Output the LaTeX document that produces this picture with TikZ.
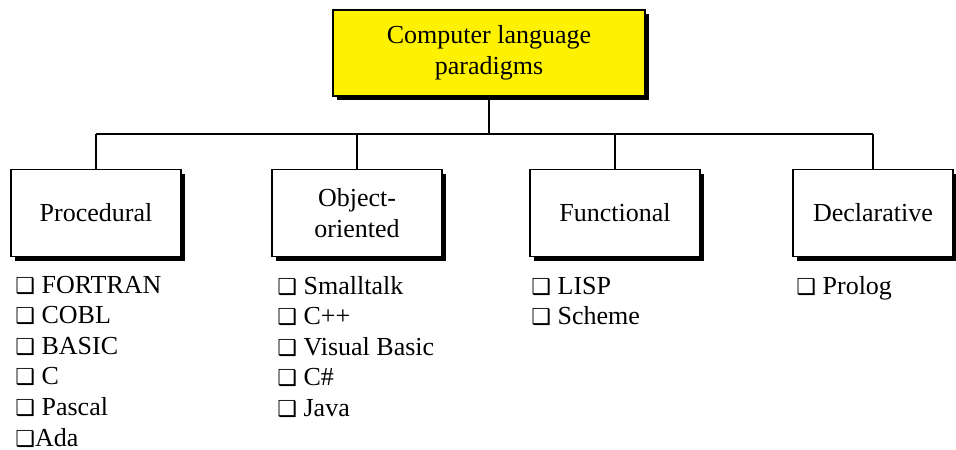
\documentclass[tikz,border=0pt]{standalone}
\usepackage{fontspec}
\setmainfont{Liberation Serif}
\newfontfamily\boxsym{DejaVu Sans}
\usetikzlibrary{shadows}
\newcommand{\chk}{{\boxsym\fontsize{11}{11}\selectfont ❑}}

\begin{document}
\begin{tikzpicture}[x=0.5pt,y=-0.5pt,
  font=\fontsize{13}{15.3}\selectfont,
  box/.style={draw,fill=white,line width=0.8pt,align=center,minimum width=85pt,minimum height=43.5pt,
    drop shadow={shadow xshift=2pt,shadow yshift=-2pt,fill=black,opacity=1}},
  list/.style={align=left,anchor=base west,inner sep=0pt}]
\useasboundingbox (0,0) rectangle (956,449);

\node[box,fill=yellow,minimum width=156pt,minimum height=43pt] (top) at (489,53) {Computer language\\paradigms};
\node[box] (proc) at (96,213) {Procedural};
\node[box] (obj) at (357,213) {Object-\\oriented};
\node[box] (func) at (615,213) {Functional};
\node[box,minimum width=80pt] (decl) at (873,213) {Declarative};

% base anchor sits on the last line
\node[list] (procl) at (15,446) {\chk{} FORTRAN\\\chk{} COBL\\\chk{} BASIC\\\chk{} C\\\chk{} Pascal\\\chk{}Ada};
\node[list] (objl) at (277,416.4) {\chk{} Smalltalk\\\chk{} C++\\\chk{} Visual Basic\\\chk{} C\#\\\chk{} Java};
\node[list] (funcl) at (531,324.6) {\chk{} LISP\\\chk{} Scheme};
\node[list] (decll) at (796,294) {\chk{} Prolog};

\coordinate (busl) at (proc.north |- 0,134);
\coordinate (busr) at (decl.north |- 0,134);
\draw[line width=0.8pt] (busl) -- (busr);
\draw[line width=0.8pt] (top.south) -- (top.south |- busl);
\foreach \n in {proc,obj,func,decl}
  \draw[line width=0.8pt] (\n.north) -- (\n.north |- busl);

\end{tikzpicture}
\end{document}
